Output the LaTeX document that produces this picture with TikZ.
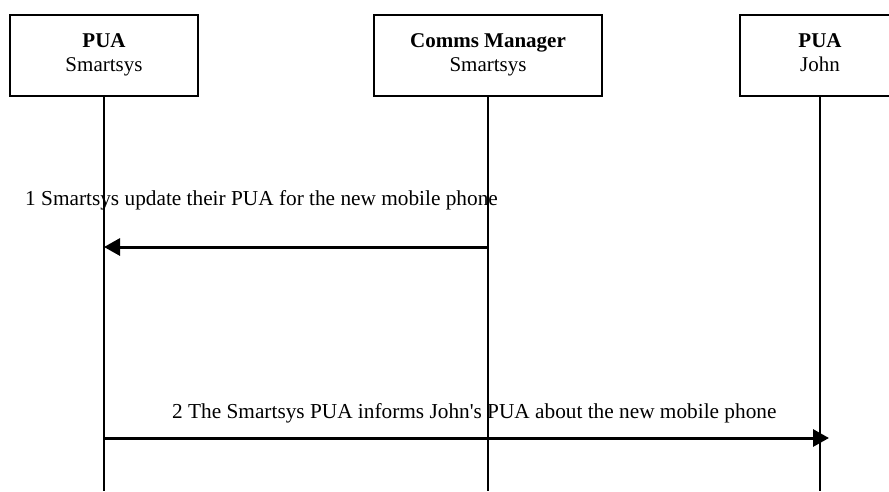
\documentclass[tikz,border=0pt]{standalone}
\usepackage{fontspec}
\setmainfont{Liberation Serif}
\newfontfamily\plainserif[Ligatures=ResetAll]{Liberation Serif}
\usetikzlibrary{arrows.meta}
\begin{document}
\begin{tikzpicture}[x=1pt,y=-1pt,
  actor/.style={draw,line width=1.5pt,minimum height=81pt,inner sep=0pt},
  lifeline/.style={line width=1.6pt},
  msg/.style={line width=3pt,-{Triangle[length=16pt,width=17pt]}},
  lbl/.style={anchor=base west,inner sep=0pt,font=\fontsize{21.3}{25}\selectfont},
  ttl/.style={anchor=base,inner sep=0pt,font=\fontsize{21}{25}\selectfont},
  ttlb/.style={ttl,font=\fontsize{21}{25}\selectfont\bfseries}]
\useasboundingbox (0,0) rectangle (889,491);
\begin{scope}
\clip (0,0) rectangle (889,491);
\node[actor,minimum width=188pt] (a) at (104,55.5) {};
\node[actor,minimum width=228pt] (b) at (488,55.5) {};
\node[actor,minimum width=160pt] (c) at (820,55.5) {};
\node[ttlb] (at) at (104,47) {PUA};
\node[ttl] (as) at (104,71) {Smartsys};
\node[ttlb] (bt) at (488,47) {Comms Manager};
\node[ttl] (bs) at (488,71) {Smartsys};
\node[ttlb] (ct) at (820,47) {PUA};
\node[ttl] (cs) at (820,71) {John};
\coordinate (ae) at (104,491);
\coordinate (be) at (488,491);
\coordinate (ce) at (820,491);
\draw[lifeline] (a.south) -- (ae);
\draw[lifeline] (b.south) -- (be);
\draw[lifeline] (c.south) -- (ce);
\coordinate (m1s) at (488,247);
\coordinate (m1e) at (104,247);
\coordinate (m2s) at (104,438);
\coordinate (m2e) at (829,438);
\draw[msg] (m1s) -- (m1e);
\draw[msg] (m2s) -- (m2e);
\node[lbl] (l1) at (25,205) {1 Smartsys update their PUA for the new mobile phone};
\node[lbl] (l2) at (172,418) {2 The Smartsys PUA informs John{\plainserif '}s PUA about the new mobile phone};
\end{scope}
\end{tikzpicture}
\end{document}
